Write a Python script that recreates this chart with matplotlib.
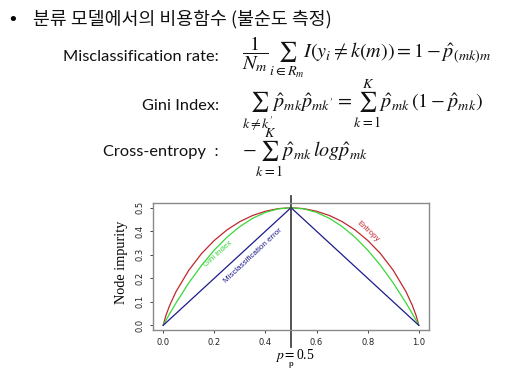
import numpy as np
import matplotlib
matplotlib.use('Agg')
import matplotlib.pyplot as plt

# values (entropy is drawn halved so it peaks at 0.5)
p_vals = [0.0, 0.01, 0.025, 0.05, 0.1, 0.15, 0.2, 0.25, 0.3, 0.35, 0.4, 0.45, 0.5,
          0.55, 0.6, 0.65, 0.7, 0.75, 0.8, 0.85, 0.9, 0.95, 0.975, 0.99, 1.0]
entropy_vals = [0.0, 0.040, 0.084, 0.143, 0.234, 0.305, 0.361, 0.406, 0.441, 0.467, 0.485, 0.496, 0.5,
                0.496, 0.485, 0.467, 0.441, 0.406, 0.361, 0.305, 0.234, 0.143, 0.084, 0.040, 0.0]
gini_vals = [0.0, 0.020, 0.049, 0.095, 0.180, 0.255, 0.320, 0.375, 0.420, 0.455, 0.480, 0.495, 0.5,
             0.495, 0.480, 0.455, 0.420, 0.375, 0.320, 0.255, 0.180, 0.095, 0.049, 0.020, 0.0]
misc_p = [0.0, 0.5, 1.0]
misc_vals = [0.0, 0.5, 0.0]
x_ticks = [0.0, 0.2, 0.4, 0.6, 0.8, 1.0]
y_ticks = [0.0, 0.1, 0.2, 0.3, 0.4, 0.5]

title_text = '분류 모델에서의 비용함수 (불순도 측정)'
row_labels = ['Misclassification rate:', 'Gini Index:', 'Cross-entropy  :']
row_formulas = [
    r'$\dfrac{1}{N_m}\sum_{i\in R_m} I\left(y_i \neq k(m)\right) = 1 - \hat{p}_{(mk)m}$',
    r"$\sum_{k\neq k'}\hat{p}_{mk}\hat{p}_{mk'} = \sum_{k=1}^{K}\hat{p}_{mk}\,(1 - \hat{p}_{mk})$",
    r'$-\sum_{k=1}^{K}\hat{p}_{mk}\,log\hat{p}_{mk}$',
]

W, H = 520, 371
plt.rcParams['mathtext.fontset'] = 'stix'
fig = plt.figure(figsize=(W / 100, H / 100), dpi=100)
fig.patch.set_facecolor('white')

def fx(px):
    return px / W

def fy(py):
    return 1 - py / H

# slide header
fig.text(fx(13), fy(20), '•', fontsize=13, ha='center', va='center', family=['DejaVu Sans'])
fig.text(fx(33), fy(19), title_text, fontsize=13.2, ha='left', va='center',
         family=['Noto Sans CJK KR', 'DejaVu Sans'], color='#111111')

label_y = [57, 106, 152]
formula_y = [57, 105, 153]
for lab, frm, ly, fy_ in zip(row_labels, row_formulas, label_y, formula_y):
    fig.text(fx(219), fy(ly), lab, fontsize=11.8, ha='right', va='center', family='Lato', color='#111111')
    fig.text(fx(242), fy(fy_), frm, fontsize=14.5, ha='left', va='center', color='#111111')

# impurity plot
ax = fig.add_axes([fx(153), fy(330), fx(429) - fx(153), fy(203) - fy(330)])
ax.plot(p_vals, entropy_vals, color='#c0282f', lw=0.9)
ax.plot(p_vals, gini_vals, color='#3ad63a', lw=0.9)
ax.plot(misc_p, misc_vals, color='#1c1c8c', lw=0.9)
ax.set_xlim(-0.04, 1.04)
ax.set_ylim(-0.02, 0.52)
ax.set_xticks(x_ticks)
ax.set_yticks(y_ticks)
ax.set_xticklabels([f'{v:.1f}' for v in x_ticks])
ax.set_yticklabels([f'{v:.1f}' for v in y_ticks], rotation=90, va='center')
ax.tick_params(direction='out', length=2.5, width=0.6, labelsize=6, pad=3.5, colors='#222222')
for s in ax.spines.values():
    s.set_color('#8a8a8a')
    s.set_linewidth(1.0)
ax.axvline(0.5, ymin=(330 - 347) / 127, ymax=(330 - 196) / 127, clip_on=False, color='#444444', lw=1.3)

ax.text(0.216, 0.303, 'Gini index', color='#3ad63a', fontsize=5.8, rotation=42,
        ha='center', va='center', family='Liberation Sans')
ax.text(0.35, 0.297, 'Misclassification error', color='#1c1c8c', fontsize=5.8, rotation=43,
        ha='center', va='center', family='Liberation Sans')
ax.text(0.80, 0.398, 'Entropy', color='#c0282f', fontsize=5.8, rotation=-42,
        ha='center', va='center', family='Liberation Sans')

fig.text(fx(121), fy(262), 'Node impurity', rotation=90, fontsize=10.3, ha='center', va='center',
         family='Liberation Serif')
fig.text(fx(295), fy(356), r'$p = $0.5', fontsize=9.8, ha='center', va='center', family='Liberation Serif')
fig.text(fx(291), fy(365), 'p', fontsize=5.5, ha='center', va='center', family='Liberation Sans',
         fontweight='bold', color='#333333')

fig.savefig('out.png', dpi=100)
